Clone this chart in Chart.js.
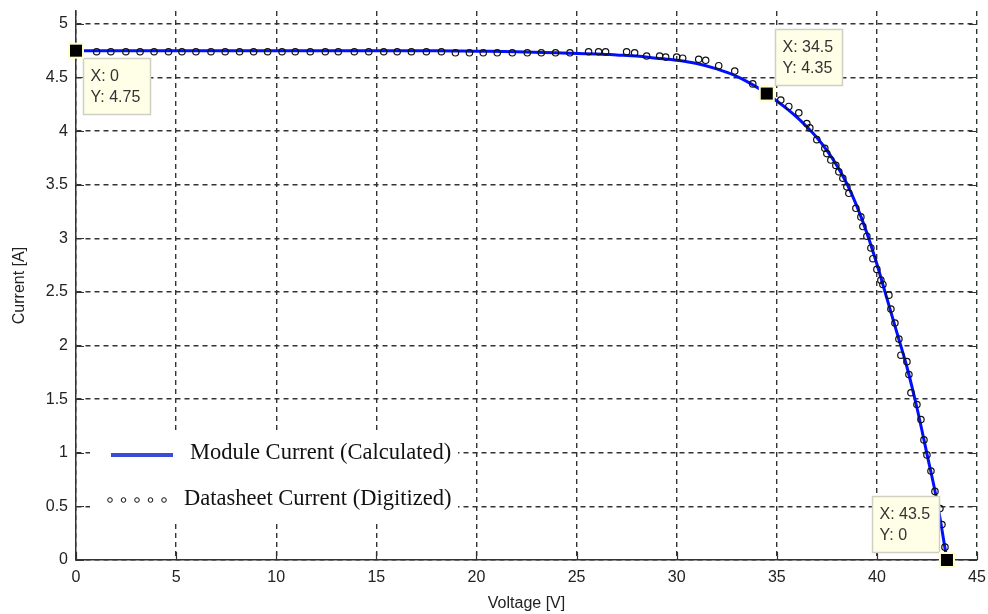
<!DOCTYPE html>
<html>
<head>
<meta charset="utf-8">
<script src="https://cdn.jsdelivr.net/npm/chart.js@4.4.1/dist/chart.umd.min.js"></script>
<style>
  html, body { margin: 0; padding: 0; background: #fff; }
  #wrap { width: 988px; height: 614px; }
</style>
</head>
<body>
<div id="wrap"><canvas id="iv" width="988" height="614"></canvas></div>
<script>
const modelV = [0, 5, 10, 15, 18, 20, 22, 24, 26, 27, 28, 29, 30, 31, 32, 33, 34, 34.5, 35, 35.5, 36, 36.5, 37, 37.5, 38, 38.5, 39, 39.5, 40, 40.5, 41, 41.5, 42, 42.5, 43, 43.5];
const modelI = [4.75, 4.75, 4.75, 4.75, 4.75, 4.745, 4.74, 4.73, 4.72, 4.71, 4.70, 4.68, 4.66, 4.63, 4.58, 4.51, 4.41, 4.35, 4.28, 4.21, 4.13, 4.04, 3.94, 3.82, 3.68, 3.51, 3.30, 3.05, 2.76, 2.44, 2.12, 1.80, 1.42, 0.99, 0.55, 0];

const sheetV = [1.03, 1.74, 2.49, 3.2, 3.9, 4.62, 5.29, 5.99, 6.74, 7.45, 8.17, 8.87, 9.57, 10.29, 10.95, 11.7, 12.45, 13.1, 13.9, 14.62, 15.37, 16.04, 16.75, 17.5, 18.25, 18.95, 19.65, 20.34, 21.04, 21.79, 22.54, 23.24, 23.95, 24.67, 25.6,
  26.1, 26.45, 27.5, 27.9, 28.5, 29.15, 29.45, 30.0, 30.3, 31.1, 31.45, 32.1, 32.9, 33.8,
  35.2, 35.6, 36.1, 36.5, 36.65, 37.0, 37.4, 37.5, 37.7, 37.95, 38.1, 38.3, 38.5, 38.6, 38.95, 39.2, 39.3, 39.5,
  39.7, 39.8, 40.0, 40.2, 40.3, 40.6, 40.7, 40.9, 41.1, 41.2, 41.5, 41.6, 41.7, 42.0,
  42.2, 42.35, 42.5, 42.7, 42.9, 43.15, 43.25, 43.4];
const sheetI = [4.74, 4.74, 4.74, 4.74, 4.74, 4.74, 4.74, 4.74, 4.74, 4.74, 4.74, 4.74, 4.74, 4.74, 4.74, 4.74, 4.74, 4.74, 4.74, 4.74, 4.74, 4.74, 4.74, 4.74, 4.74, 4.73, 4.73, 4.73, 4.73, 4.73, 4.73, 4.73, 4.73, 4.73, 4.74,
  4.74, 4.74, 4.74, 4.73, 4.70, 4.70, 4.69, 4.69, 4.68, 4.67, 4.66, 4.61, 4.56, 4.44,
  4.29, 4.23, 4.17, 4.07, 4.03, 3.92, 3.84, 3.79, 3.73, 3.68, 3.62, 3.56, 3.48, 3.42, 3.28, 3.20, 3.11, 3.02,
  2.91, 2.81, 2.71, 2.61, 2.57, 2.47, 2.34, 2.21, 2.06, 1.91, 1.85, 1.73, 1.56, 1.45,
  1.31, 1.12, 0.98, 0.83, 0.64, 0.48, 0.33, 0.12];

const xTicks = [0, 5, 10, 15, 20, 25, 30, 35, 40, 45];
const yTicks = [0, 0.5, 1, 1.5, 2, 2.5, 3, 3.5, 4, 4.5, 5];

// data cursors
const tipV = [0, 34.5, 43.5];
const tipI = [4.75, 4.35, 0];

const seriesNames = ['Module Current (Calculated)', 'Datasheet Current (Digitized)'];

const toPoints = (xs, ys) => xs.map((x, i) => ({ x, y: ys[i] }));
const sans = "'Liberation Sans', Arial, sans-serif";
const serif = "'Liberation Serif', 'Times New Roman', serif";

// MATLAB-style inward ticks on the axes
const innerTicks = {
  id: 'innerTicks',
  afterDraw(chart) {
    const { ctx, chartArea: a, scales: { x, y } } = chart;
    ctx.save();
    ctx.strokeStyle = '#333';
    ctx.lineWidth = 1.2;
    ctx.beginPath();
    xTicks.forEach(v => {
      const px = Math.round(x.getPixelForValue(v)) + 0.5;
      ctx.moveTo(px, a.bottom); ctx.lineTo(px, a.bottom - 8);
    });
    yTicks.forEach(v => {
      const py = Math.round(y.getPixelForValue(v)) + 0.5;
      ctx.moveTo(a.left, py); ctx.lineTo(a.left + 8, py);
      ctx.moveTo(a.right, py); ctx.lineTo(a.right - 8, py);
    });
    ctx.stroke();
    ctx.restore();
  }
};

// legend box sitting inside the axes, lower left
const insideLegend = {
  id: 'insideLegend',
  afterDatasetsDraw(chart) {
    const { ctx, chartArea: a } = chart;
    const left = a.left + 14, top = a.bottom - 128;
    ctx.save();
    ctx.fillStyle = '#fff';
    ctx.fillRect(left, top, 368, 90);

    // line entry
    ctx.strokeStyle = '#3a4bd6';
    ctx.lineWidth = 4;
    ctx.beginPath();
    ctx.moveTo(left + 21, top + 23);
    ctx.lineTo(left + 83, top + 23);
    ctx.stroke();

    // marker entry
    ctx.strokeStyle = '#111';
    ctx.lineWidth = 1;
    for (let k = 0; k < 5; k++) {
      ctx.beginPath();
      ctx.arc(left + 20 + k * 13.5, top + 68, 2.3, 0, Math.PI * 2);
      ctx.stroke();
    }

    ctx.fillStyle = '#111';
    ctx.font = '22.5px ' + serif;
    ctx.textBaseline = 'middle';
    ctx.textAlign = 'left';
    ctx.fillText(seriesNames[0], left + 100, top + 21);
    ctx.fillText(seriesNames[1], left + 94, top + 67);
    ctx.restore();
  }
};

// data cursor squares and their yellow info boxes
const dataTips = {
  id: 'dataTips',
  afterDraw(chart) {
    const { ctx, scales: { x, y } } = chart;
    const offsets = [[7, 7], [8, -65], [-75, -64]];
    ctx.save();
    tipV.forEach((v, i) => {
      const px = x.getPixelForValue(v), py = y.getPixelForValue(tipI[i]);
      const [dx, dy] = offsets[i];
      const bx = Math.round(px + dx) + 0.5, by = Math.round(py + dy) + 0.5;
      const w = 67, h = 56;
      ctx.fillStyle = '#ffffe8';
      ctx.fillRect(bx, by, w, h);
      ctx.strokeStyle = '#cfcfc4';
      ctx.lineWidth = 1.5;
      ctx.strokeRect(bx, by, w, h);
      ctx.fillStyle = '#333';
      ctx.font = '16px ' + sans;
      ctx.textAlign = 'left';
      ctx.textBaseline = 'middle';
      ctx.fillText('X: ' + v, bx + 7, by + 18);
      ctx.fillText('Y: ' + tipI[i], bx + 7, by + 39);

      ctx.fillStyle = '#ffffc8';
      ctx.fillRect(px - 8, py - 8, 16, 16);
      ctx.fillStyle = '#000';
      ctx.fillRect(px - 6, py - 6, 12, 12);
    });
    ctx.restore();
  }
};

new Chart(document.getElementById('iv'), {
  type: 'scatter',
  data: {
    datasets: [
      {
        label: seriesNames[0],
        data: toPoints(modelV, modelI),
        showLine: true,
        borderColor: '#0010ff',
        borderWidth: 3,
        pointRadius: 0,
        cubicInterpolationMode: 'monotone',
        order: 2
      },
      {
        label: seriesNames[1],
        data: toPoints(sheetV, sheetI),
        showLine: false,
        pointRadius: 3.2,
        pointBorderWidth: 1.2,
        pointBorderColor: '#111',
        pointBackgroundColor: 'rgba(0,0,0,0)',
        order: 1
      }
    ]
  },
  options: {
    responsive: false,
    animation: false,
    layout: { padding: { top: 11, right: 11, left: 0, bottom: 0 } },
    plugins: { legend: { display: false }, tooltip: { enabled: false } },
    scales: {
      x: {
        type: 'linear',
        min: 0,
        max: 45,
        afterBuildTicks: s => { s.ticks = xTicks.map(value => ({ value })); },
        afterFit: s => { s.height = 54; s.paddingLeft = 0; s.paddingRight = 0; },
        grid: { color: '#333', lineWidth: 1.4, drawTicks: false },
        border: { color: '#333', width: 1.5, dash: [5, 4] },
        ticks: { color: '#222', padding: 8, font: { family: sans, size: 16 } },
        title: { display: true, text: 'Voltage [V]', color: '#222', font: { family: sans, size: 16 }, padding: { top: 0, bottom: 1 } }
      },
      y: {
        type: 'linear',
        min: 0,
        max: 5.12,
        afterBuildTicks: s => { s.ticks = yTicks.map(value => ({ value })); },
        afterFit: s => { s.width = 76; s.paddingTop = 0; s.paddingBottom = 0; },
        grid: { color: '#333', lineWidth: 1.4, drawTicks: false },
        border: { color: '#333', width: 1.5, dash: [5, 4] },
        ticks: { color: '#222', padding: 8, font: { family: sans, size: 16 }, callback: v => String(v) },
        title: { display: true, text: 'Current [A]', color: '#222', font: { family: sans, size: 16 }, padding: { top: 10, bottom: 0 } }
      }
    }
  },
  plugins: [innerTicks, insideLegend, dataTips]
});
</script>
</body>
</html>
